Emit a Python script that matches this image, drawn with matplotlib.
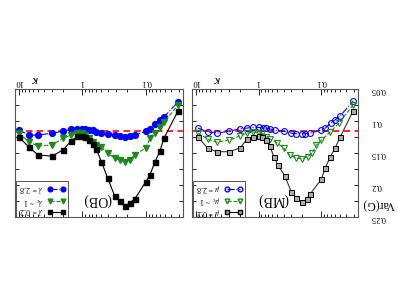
import numpy as np
import matplotlib
matplotlib.use("Agg")
import matplotlib.pyplot as plt
from matplotlib.ticker import FixedLocator, FixedFormatter, LogLocator, NullFormatter, MultipleLocator
from matplotlib.patches import Rectangle
from matplotlib.lines import Line2D

plt.rcParams['font.family'] = ['Liberation Serif', 'DejaVu Serif']
plt.rcParams['mathtext.fontset'] = 'stix'

# ---------------- data ----------------
# OB panel
ob_k = [10, 6.9, 5.0, 3.0, 2.0, 1.5, 1.2, 1.0, 0.9, 0.8, 0.69, 0.6, 0.5, 0.4, 0.31,
        0.26, 0.21, 0.18, 0.15, 0.1, 0.086, 0.072, 0.06, 0.052, 0.031]
ob_low = [0.125, 0.141, 0.153, 0.155, 0.145, 0.131, 0.124, 0.123, 0.125, 0.130, 0.136,
          0.144, 0.164, 0.189, 0.217, 0.225, 0.233, 0.228, 0.222, 0.195, 0.184, 0.164,
          0.147, 0.127, 0.084]
ob_crit = [0.119, 0.133, 0.139, 0.1375, 0.127, 0.122, 0.119, 0.119, 0.122, 0.127, 0.133,
           0.1375, 0.141, 0.150, 0.158, 0.161, 0.164, 0.161, 0.153, 0.142, 0.127, 0.118,
           0.109, 0.102, 0.075]
ob_high = [0.114, 0.122, 0.122, 0.119, 0.116, 0.1125, 0.1125, 0.1125, 0.1125, 0.114, 0.114,
           0.117, 0.119, 0.120, 0.122, 0.123, 0.125, 0.123, 0.122, 0.116, 0.1125, 0.105,
           0.098, 0.094, 0.070]

# MB panel
mb_low_k = [9.3, 6.5, 4.67, 2.92, 1.96, 1.52, 1.22, 1.0, 0.88, 0.76, 0.66, 0.57, 0.49,
            0.38, 0.30, 0.25, 0.20, 0.17, 0.15, 0.10, 0.086, 0.072, 0.060, 0.050, 0.031]
mb_low = [0.125, 0.142, 0.148, 0.148, 0.142, 0.128, 0.125, 0.123, 0.125, 0.130, 0.139,
          0.156, 0.169, 0.186, 0.211, 0.220, 0.227, 0.222, 0.214, 0.191, 0.173, 0.156,
          0.142, 0.125, 0.084]
mb_crit_k = [9.3, 6.5, 4.67, 2.92, 1.96, 1.52, 1.22, 1.0, 0.88, 0.76, 0.66, 0.51, 0.40,
             0.32, 0.25, 0.20, 0.165, 0.14, 0.12, 0.10, 0.072, 0.052, 0.031]
mb_crit = [0.119, 0.128, 0.133, 0.130, 0.123, 0.119, 0.117, 0.119, 0.119, 0.125, 0.128,
           0.134, 0.142, 0.153, 0.158, 0.159, 0.156, 0.150, 0.1375, 0.130, 0.117, 0.103,
           0.075]
mb_high_k = [9.3, 6.5, 4.67, 2.92, 1.96, 1.52, 1.22, 1.0, 0.865, 0.75, 0.66, 0.55, 0.40,
             0.30, 0.25, 0.206, 0.18, 0.15, 0.1, 0.086, 0.070, 0.060, 0.050, 0.031]
mb_high = [0.111, 0.117, 0.119, 0.116, 0.112, 0.111, 0.110, 0.110, 0.111, 0.111, 0.1125,
           0.114, 0.116, 0.119, 0.120, 0.120, 0.120, 0.119, 0.114, 0.111, 0.103, 0.098,
           0.092, 0.069]

ref_line = 0.115
xlim = (11.5, 0.026)
ylim = (0.25, 0.05)
x_major = [10, 1, 0.1]
x_major_labels = ['10', '1', '0.1']
y_major = [0.05, 0.1, 0.15, 0.2, 0.25]
y_major_labels = ['0.05', '0.1', '0.15', '0.2', '0.25']

ob_labels = [r'$\lambda$ = 0.2', r'$\lambda_c$ ~ 1', r'$\lambda$ = 2.8']
mb_labels = [r'$\mu$ = 0.2', r'$\mu_c$ ~ 1', r'$\mu$ = 2.8']

BLUE = '#0000ff'
GREEN = '#1a8c1a'

W, H = 398, 307
fig = plt.figure(figsize=(W / 100, H / 100), dpi=100)

def make_ax(x0, x1, y0, y1):
    return fig.add_axes([x0 / W, 1 - y1 / H, (x1 - x0) / W, (y1 - y0) / H])

ax_ob = make_ax(15, 183, 89, 217)
ax_mb = make_ax(192, 358, 89, 217)

def style(ax, ylabels):
    ax.set_xscale('log')
    ax.set_xlim(*xlim)
    ax.set_ylim(*ylim)
    ax.xaxis.set_major_locator(FixedLocator(x_major))
    ax.xaxis.set_major_formatter(FixedFormatter(x_major_labels))
    ax.xaxis.set_minor_locator(LogLocator(base=10, subs=np.arange(2, 10)))
    ax.xaxis.set_minor_formatter(NullFormatter())
    ax.yaxis.set_major_locator(FixedLocator(y_major))
    ax.yaxis.set_major_formatter(FixedFormatter(y_major_labels))
    ax.yaxis.set_minor_locator(MultipleLocator(0.025))
    ax.tick_params(axis='x', which='both', direction='in', top=True, bottom=True,
                   labeltop=True, labelbottom=False, labelrotation=180,
                   labelsize=6.2, pad=2, width=0.6)
    ax.tick_params(axis='x', which='major', length=4)
    ax.tick_params(axis='x', which='minor', length=2.2)
    ax.tick_params(axis='y', which='both', direction='in', left=True, right=True,
                   labelright=ylabels, labelleft=False, labelrotation=180,
                   labelsize=6.2, pad=9, width=0.6)
    ax.tick_params(axis='y', which='major', length=3)
    ax.tick_params(axis='y', which='minor', length=3)
    for s in ax.spines.values():
        s.set_linewidth(0.8)
        s.set_color('#555555')

style(ax_ob, False)
style(ax_mb, True)

ms = 3.6
# OB: filled markers
ax_ob.axhline(ref_line, color='red', ls=(0, (4, 2.5)), lw=1.2, zorder=1)
ax_ob.plot(ob_k, ob_high, color=BLUE, ls='-.', lw=0.8, marker='o', ms=ms + 0.6,
           mfc=BLUE, mec=BLUE, zorder=3)
ax_ob.plot(ob_k, ob_crit, color=GREEN, ls='--', lw=0.8, marker='v', ms=ms + 0.4,
           mfc=GREEN, mec=GREEN, zorder=3)
ax_ob.plot(ob_k, ob_low, color='black', ls='-', lw=0.8, marker='s', ms=ms,
           mfc='black', mec='black', zorder=3)

# MB: open markers
ax_mb.axhline(ref_line, color='red', ls=(0, (4, 2.5)), lw=1.2, zorder=1)
ax_mb.plot(mb_high_k, mb_high, color=BLUE, ls='-.', lw=0.8, marker='o', ms=ms + 0.6,
           mfc='none', mec=BLUE, mew=0.8, zorder=3)
ax_mb.plot(mb_crit_k, mb_crit, color=GREEN, ls='--', lw=0.8, marker='v', ms=ms + 0.4,
           mfc='none', mec=GREEN, mew=0.8, zorder=3)
ax_mb.plot(mb_low_k, mb_low, color='#333333', ls='-', lw=0.8, marker='s', ms=ms,
           mfc='#aaaaaa', mec='black', mew=0.7, zorder=3)

def legend(ax, x0, x1, labels, filled):
    fw = (x1 - x0)
    def fx(px):
        return (px - x0) / fw
    def fy(py):
        return (217 - py) / 128
    ax.add_patch(Rectangle((fx(x0 + 1), 0.0), fx(x0 + 53) - fx(x0 + 1), fy(181),
                           transform=ax.transAxes, fill=False, lw=0.7,
                           edgecolor='#555555', zorder=4))
    rows = [211.5, 200.5, 188.5]
    specs = [('black', 's', '-'), (GREEN, 'v', '--'), (BLUE, 'o', '-.')]
    for (c, m, ls), py, lab in zip(specs, rows, labels):
        if filled:
            mfc = c
        else:
            mfc = '#aaaaaa' if m == 's' else 'none'
        ax.add_line(Line2D([fx(x0 + 35), fx(x0 + 48)], [fy(py), fy(py)],
                           transform=ax.transAxes, color=c, ls=ls, lw=0.8,
                           marker=m, ms=3.4, mfc=mfc, mec=c,
                           zorder=5))
        ax.text(fx(x0 + 28), fy(py), lab, transform=ax.transAxes, rotation=180,
                ha='right', va='center', fontsize=5.8, zorder=5)

legend(ax_ob, 15, 183, ob_labels, True)
legend(ax_mb, 192, 358, mb_labels, False)

# panel titles
ax_ob.text((97 - 15) / 168, (217 - 200) / 128, '(OB)', transform=ax_ob.transAxes,
           rotation=180, ha='center', va='center', fontsize=10)
ax_mb.text((273 - 192) / 166, (217 - 200) / 128, '(MB)', transform=ax_mb.transAxes,
           rotation=180, ha='center', va='center', fontsize=10)

# axis labels
ax_ob.text((35 - 15) / 168, (217 - 79) / 128, r'$\kappa$', transform=ax_ob.transAxes,
           rotation=180, ha='center', va='center', fontsize=9)
ax_mb.text((217 - 192) / 166, (217 - 79) / 128, r'$\kappa$', transform=ax_mb.transAxes,
           rotation=180, ha='center', va='center', fontsize=9)
fig.text(379 / W, 1 - 204 / H, 'Var(G)', rotation=180, ha='center', va='center',
         fontsize=8.5)

fig.savefig('out.png', dpi=100)
